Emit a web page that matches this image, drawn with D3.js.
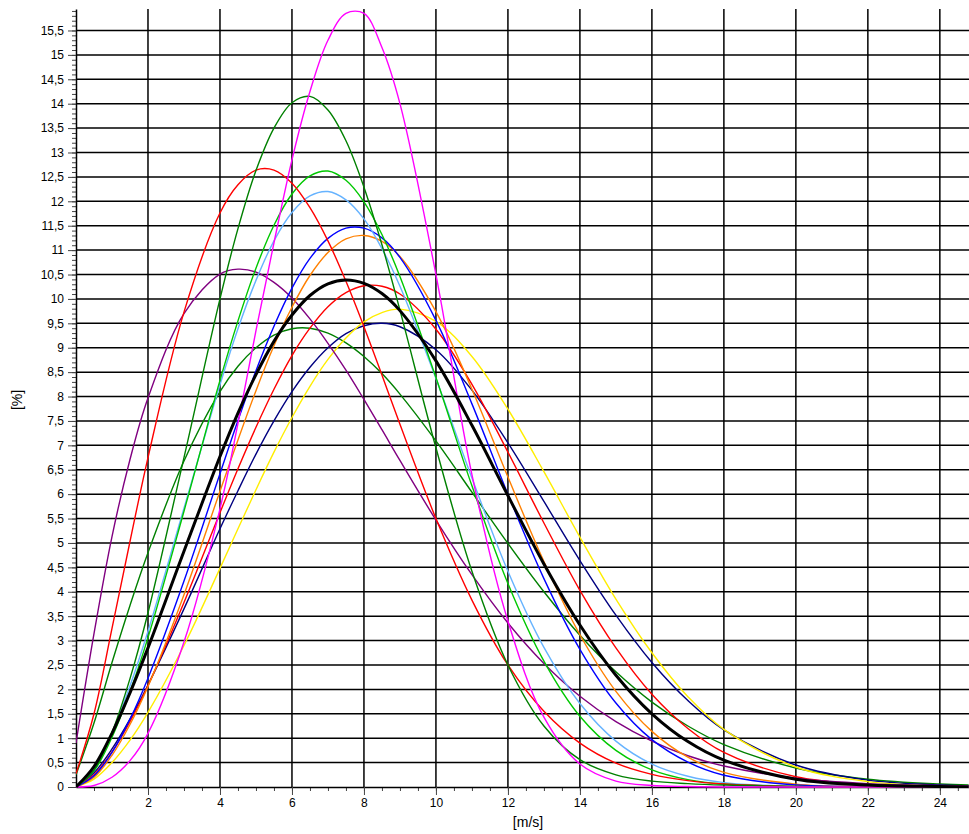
<!DOCTYPE html>
<html>
<head>
<meta charset="utf-8">
<script src="https://cdn.jsdelivr.net/npm/d3@7"></script>
<style>
	body { margin: 0; background: #fff; }
	svg { display: block; }
	text { font-family: "Liberation Sans", Arial, sans-serif; fill: #000; }
</style>
</head>
<body>
<svg id="chart" width="969" height="834"></svg>
<script>
"use strict";

/* global d3 */

// wind speed bins [m/s], shared by every series
var speeds = [0, 0.5, 1, 1.5, 2, 3, 4, 4.5, 5, 5.5, 6, 6.5, 7, 7.5, 8, 8.5, 9,
	10, 11, 12, 13, 14, 15, 16, 17, 18, 20, 22, 24, 24.8];

// frequency [%] per series
var magenta = [0, 0.03, 0.2, 0.54, 1.1, 2.97, 5.7, 7.45, 9.35, 11.15, 12.85, 14.25, 15.3, 15.85, 15.85, 15.15, 14.0,
	10.5, 6.4, 3.4, 1.43, 0.47, 0.12, 0.03, 0.01, 0, 0, 0, 0, 0];
var darkGreenTall = [0, 0.35, 1.12, 2.22, 3.57, 6.75, 10.0, 11.44, 12.63, 13.5, 14.02, 14.15, 13.87, 13.24, 12.29, 11.11, 9.77,
	6.95, 4.42, 2.5, 1.25, 0.56, 0.25, 0.12, 0.07, 0.04, 0.01, 0, 0, 0];
var redLeft = [0.27, 1.5, 3.25, 5.03, 6.75, 9.73, 11.76, 12.34, 12.64, 12.64, 12.37, 11.87, 11.19, 10.36, 9.43, 8.44, 7.43,
	5.5, 3.83, 2.5, 1.55, 0.9, 0.49, 0.26, 0.13, 0.06, 0.01, 0, 0, 0];
var lime = [0, 0.33, 1.02, 1.95, 3.06, 5.65, 8.33, 9.55, 10.63, 11.51, 12.15, 12.52, 12.62, 12.43, 11.99, 11.32, 10.46,
	8.39, 6.17, 4.17, 2.58, 1.45, 0.75, 0.35, 0.15, 0.06, 0.01, 0, 0, 0];
var lightBlue = [0, 0.38, 1.11, 2.07, 3.19, 5.71, 8.24, 9.39, 10.38, 11.19, 11.77, 12.11, 12.2, 12.03, 11.64, 11.03, 10.26,
	8.37, 6.33, 4.42, 2.86, 1.71, 0.94, 0.47, 0.22, 0.09, 0.01, 0, 0, 0];
var blue = [0, 0.23, 0.71, 1.39, 2.23, 4.22, 6.42, 7.51, 8.53, 9.44, 10.22, 10.83, 11.24, 11.45, 11.45, 11.25, 10.85,
	9.56, 7.85, 6.0, 4.27, 2.82, 1.72, 0.97, 0.51, 0.24, 0.04, 0.01, 0, 0];
var orange = [0, 0.2, 0.65, 1.28, 2.06, 3.94, 6.06, 7.11, 8.12, 9.04, 9.83, 10.48, 10.95, 11.23, 11.3, 11.18, 10.87,
	9.74, 8.15, 6.35, 4.62, 3.12, 1.96, 1.14, 0.61, 0.3, 0.06, 0.01, 0, 0];
var purple = [0.9, 3.14, 5.13, 6.71, 7.97, 9.7, 10.51, 10.61, 10.55, 10.34, 10.02, 9.59, 9.09, 8.54, 7.94, 7.32, 6.69,
	5.47, 4.35, 3.36, 2.53, 1.86, 1.34, 0.94, 0.64, 0.43, 0.18, 0.07, 0.03, 0.02];
var redRight = [0, 0.25, 0.72, 1.34, 2.08, 3.78, 5.62, 6.52, 7.37, 8.15, 8.84, 9.4, 9.84, 10.13, 10.27, 10.26, 10.1,
	9.38, 8.25, 6.86, 5.41, 4.03, 2.85, 1.9, 1.2, 0.71, 0.21, 0.05, 0.01, 0];
var yellow = [0, 0.16, 0.5, 0.96, 1.53, 2.9, 4.48, 5.29, 6.09, 6.86, 7.57, 8.21, 8.76, 9.2, 9.53, 9.72, 9.79,
	9.54, 8.82, 7.74, 6.46, 5.12, 3.85, 2.75, 1.85, 1.18, 0.41, 0.11, 0.02, 0.01];
var navy = [0, 0.29, 0.78, 1.39, 2.09, 3.65, 5.29, 6.07, 6.82, 7.5, 8.1, 8.6, 9.0, 9.29, 9.45, 9.5, 9.43,
	8.96, 8.13, 7.05, 5.85, 4.64, 3.52, 2.55, 1.77, 1.17, 0.45, 0.14, 0.04, 0.02];
var darkGreenLow = [0.25, 1.31, 2.55, 3.72, 4.8, 6.68, 8.1, 8.62, 9.0, 9.26, 9.39, 9.4, 9.3, 9.1, 8.82, 8.47, 8.05,
	7.09, 6.04, 4.99, 4.0, 3.11, 2.36, 1.74, 1.25, 0.87, 0.39, 0.16, 0.06, 0.04];
var mean = [0, 0.42, 1.1, 1.93, 2.85, 4.83, 6.77, 7.66, 8.45, 9.13, 9.67, 10.07, 10.31, 10.39, 10.32, 10.11, 9.76,
	8.73, 7.41, 5.97, 4.57, 3.32, 2.29, 1.5, 0.93, 0.55, 0.16, 0.04, 0.01, 0];

// axis labels
var xTickValues = [2, 4, 6, 8, 10, 12, 14, 16, 18, 20, 22, 24];
var yTickValues = d3.range(0, 32).map(function(i) { return i / 2; });

(function() {
	var svg = d3.select("#chart");

	var x = d3.scaleLinear().domain([0, 24.81]).range([76, 969]);
	var y = d3.scaleLinear().domain([0, 15.94]).range([787, 9]);

	// grid
	var grid = svg.append("g")
		.attr("stroke", "#000")
		.attr("stroke-width", 1.5);
	grid.selectAll("line.h")
		.data(yTickValues.filter(function(d) { return d > 0; }))
		.enter().append("line")
		.attr("class", "h")
		.attr("x1", x(0)).attr("x2", x(24.81))
		.attr("y1", function(d) { return y(d); })
		.attr("y2", function(d) { return y(d); });
	grid.selectAll("line.v")
		.data(xTickValues)
		.enter().append("line")
		.attr("class", "v")
		.attr("y1", y(0)).attr("y2", y(15.94))
		.attr("x1", function(d) { return x(d); })
		.attr("x2", function(d) { return x(d); });

	// minor ticks first, then the labelled axes on top
	svg.append("g")
		.attr("transform", "translate(" + x(0) + ",0)")
		.call(d3.axisLeft(y)
			.tickValues(d3.range(0, 160).map(function(i) { return i / 10; }))
			.tickSize(4).tickSizeOuter(0).tickFormat(""))
		.call(function(g) { g.select(".domain").remove(); });
	svg.append("g")
		.attr("transform", "translate(0," + y(0) + ")")
		.call(d3.axisBottom(x)
			.tickValues(d3.range(1, 50).map(function(i) { return i / 2; }))
			.tickSize(4).tickSizeOuter(0).tickFormat(""))
		.call(function(g) { g.select(".domain").remove(); });

	var yAxis = svg.append("g")
		.attr("transform", "translate(" + x(0) + ",0)")
		.call(d3.axisLeft(y)
			.tickValues(yTickValues)
			.tickSize(8).tickPadding(4).tickSizeOuter(0)
			.tickFormat(function(d) { return String(d).replace(".", ","); }));
	var xAxis = svg.append("g")
		.attr("transform", "translate(0," + y(0) + ")")
		.call(d3.axisBottom(x)
			.tickValues(xTickValues)
			.tickSize(8).tickPadding(3).tickSizeOuter(0));

	[yAxis, xAxis].forEach(function(g) {
		g.selectAll("text").attr("font-size", 12).attr("font-family", null);
		g.select(".domain").attr("stroke-width", 1.5);
	});
	svg.selectAll(".tick line").attr("stroke", "#444");

	// axis titles
	svg.append("text")
		.attr("transform", "translate(22,400) rotate(-90)")
		.attr("text-anchor", "middle")
		.attr("font-size", 14)
		.text("[%]");
	svg.append("text")
		.attr("x", 528).attr("y", 827)
		.attr("text-anchor", "middle")
		.attr("font-size", 14)
		.text("[m/s]");

	// curves
	svg.append("clipPath").attr("id", "plot")
		.append("rect").attr("x", 76).attr("y", 0).attr("width", 893).attr("height", 788);

	var line = d3.line()
		.x(function(d, i) { return x(speeds[i]); })
		.y(function(d) { return y(d); })
		.curve(d3.curveCatmullRom.alpha(0.5));

	var curves = [
		{values: darkGreenLow, color: "#008000", width: 1.4},
		{values: navy, color: "#000080", width: 1.4},
		{values: yellow, color: "#ffee00", width: 1.4},
		{values: redRight, color: "#ff0000", width: 1.4},
		{values: purple, color: "#800080", width: 1.4},
		{values: orange, color: "#ff8000", width: 1.4},
		{values: blue, color: "#0000ff", width: 1.4},
		{values: lightBlue, color: "#66b3ff", width: 1.4},
		{values: lime, color: "#00c800", width: 1.4},
		{values: redLeft, color: "#ff0000", width: 1.4},
		{values: darkGreenTall, color: "#008000", width: 1.4},
		{values: magenta, color: "#ff00ff", width: 1.4},
		{values: mean, color: "#000000", width: 3}
	];

	svg.append("g")
		.attr("clip-path", "url(#plot)")
		.selectAll("path")
		.data(curves)
		.enter().append("path")
		.attr("fill", "none")
		.attr("stroke", function(d) { return d.color; })
		.attr("stroke-width", function(d) { return d.width; })
		.attr("stroke-linejoin", "round")
		.attr("d", function(d) { return line(d.values); });
}());
</script>
</body>
</html>
